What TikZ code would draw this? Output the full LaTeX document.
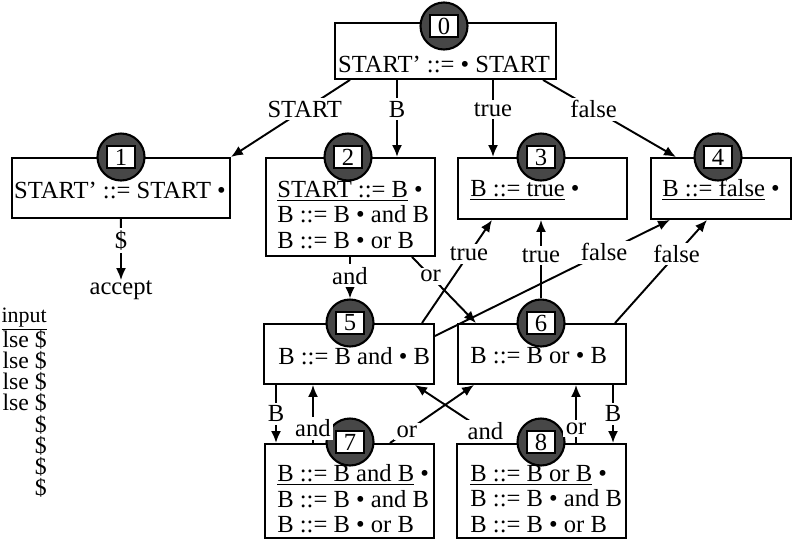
\documentclass[tikz,border=0pt]{standalone}
\usepackage{fontspec}
\setmainfont{Liberation Serif}
\usepackage{tikz}
\usetikzlibrary{positioning, arrows.meta, calc}

\begin{document}
\begin{tikzpicture}[
  x=0.02cm, y=-0.02cm,
  statebox/.style={draw, line width=1.1pt, inner sep=0pt, anchor=north west},
  itemtext/.style={font=\fontsize{14}{14.5}\selectfont, align=left, inner sep=0pt},
  ball/.style={circle, draw, line width=1.2pt, fill=black!72, minimum size=0.94cm, inner sep=0pt},
  numbox/.style={rectangle, draw, line width=0.8pt, fill=white,
    minimum width=0.56cm, minimum height=0.44cm, inner sep=0pt,
    font=\fontsize{14}{14}\selectfont},
  lbl/.style={fill=white, inner sep=1.5pt, font=\fontsize{14}{14}\selectfont},
  trace/.style={inner sep=0pt, font=\fontsize{13.5}{13.5}\selectfont},
  arr/.style={-{Latex[length=2.4mm, width=2mm]}, line width=1.1pt},
]
\useasboundingbox (0,0) rectangle (794,538);

% item sets
\node[statebox, minimum width=4.42cm, minimum height=1.12cm] (s0) at (334,22) {};
\node[statebox, minimum width=4.36cm, minimum height=1.2cm] (s1) at (11,157) {};
\node[statebox, minimum width=3.38cm, minimum height=1.96cm] (s2) at (265,157) {};
\node[statebox, minimum width=3.38cm, minimum height=1.22cm] (s3) at (457,157) {};
\node[statebox, minimum width=2.8cm, minimum height=1.22cm] (s4) at (650,157) {};
\node[statebox, minimum width=3.4cm, minimum height=1.2cm] (s5) at (263,323) {};
\node[statebox, minimum width=3.36cm, minimum height=1.2cm] (s6) at (457,323) {};
\node[statebox, minimum width=3.38cm, minimum height=1.88cm] (s7) at (264,443) {};
\node[statebox, minimum width=3.38cm, minimum height=1.88cm] (s8) at (456,443) {};

\node[itemtext] (t0) at (444,64) {START' ::= • START};
\node[itemtext] (t1) at (120,190) {START' ::= START •};
\node[itemtext, anchor=west] (t2) at (277,215)
  {\underline{START ::= B} •\\B ::= B • and B\\B ::= B • or B};
\node[itemtext, anchor=west] (t3) at (470,190) {\underline{B ::= true} •};
\node[itemtext, anchor=west] (t4) at (662,190) {\underline{B ::= false} •};
\node[itemtext, anchor=west] (t5) at (278,356) {B ::= B and • B};
\node[itemtext, anchor=west] (t6) at (470,356) {B ::= B or • B};
\node[itemtext, anchor=west] (t7) at (277,499)
  {\underline{B ::= B and B} •\\B ::= B • and B\\B ::= B • or B};
\node[itemtext, anchor=west] (t8) at (470,499)
  {\underline{B ::= B or B} •\\B ::= B • and B\\B ::= B • or B};

% state numbers
\foreach \n/\x/\y in {0/444/26, 1/121/157, 2/348/157, 3/541/157, 4/718/157,
                      5/350/323, 6/541/323, 7/350/442, 8/541/442} {
  \node[ball] (c\n) at (\x,\y) {};
  \node[numbox] (n\n) at (c\n) {\n};
}

\node[lbl, inner sep=0pt] (acc) at (121,290) {accept};

% transitions
\draw[arr] (s0.south -| 350,0) -- node[lbl, pos=0.38] {START} (s1.north east);
\draw[arr] (s0.south -| 397,0) -- node[lbl, pos=0.38] {B} (s2.north -| 397,0);
\draw[arr] (s0.south -| 493,0) -- node[lbl, pos=0.38] {true} (s3.north -| 493,0);
\draw[arr] (s0.south -| 543,0) -- node[lbl, pos=0.38] {false} (s4.north -| 676,0);
\draw[arr] (s1.south) -- node[lbl, pos=0.35] {\$} (acc);
\draw[arr] (s2.south -| c5) -- node[lbl, pos=0.45] {and} (c5.north);
\draw[arr] (s2.south -| 412,0) -- node[lbl, pos=0.29] {or} (s6.north -| 476,0);
\draw[arr] (s5.north -| 422,0) -- node[lbl, pos=0.67] {true} (s3.south -| 492,0);
\draw[arr] (c6.north) -- node[lbl, pos=0.55] {true} (s3.south -| c6);
\draw[arr] (s5.east |- 0,336) -- node[lbl, pos=0.72] {false} (s4.south -| 670,0);
\draw[arr] (s6.north -| 615,0) -- node[lbl, pos=0.67] {false} (s4.south -| 707,0);
\draw[arr] (s5.south -| 276,0) -- node[lbl] {B} (s7.north -| 276,0);
\draw[arr] (s6.south -| 613,0) -- node[lbl] {B} (s8.north -| 613,0);
\draw[arr] (s7.north -| 313,0) -- node[lbl, pos=0.25] {and} (s5.south -| 313,0);
\draw[arr] (s7.north -| 390,0) -- node[lbl, pos=0.2] {or} (s6.south -| 474,0);
\draw[arr] (s8.north -| 576,0) -- node[lbl, pos=0.25] {or} (s6.south -| 576,0);
\draw[arr] (s8.north -| 503,0) -- node[lbl, pos=0.2] {and} (s5.south -| 415,0);

% parse trace column
\node[trace, font=\fontsize{12.5}{12.5}\selectfont, anchor=base east] (inp) at (47,322) {\underline{input}};
\foreach \i/\s in {1/lse \$, 2/lse \$, 3/lse \$, 4/lse \$, 5/\$, 6/\$, 7/\$, 8/\$}
  \node[trace, anchor=base east] (in\i) at (47,{326+21.2*\i}) {\s};
\end{tikzpicture}
\end{document}
